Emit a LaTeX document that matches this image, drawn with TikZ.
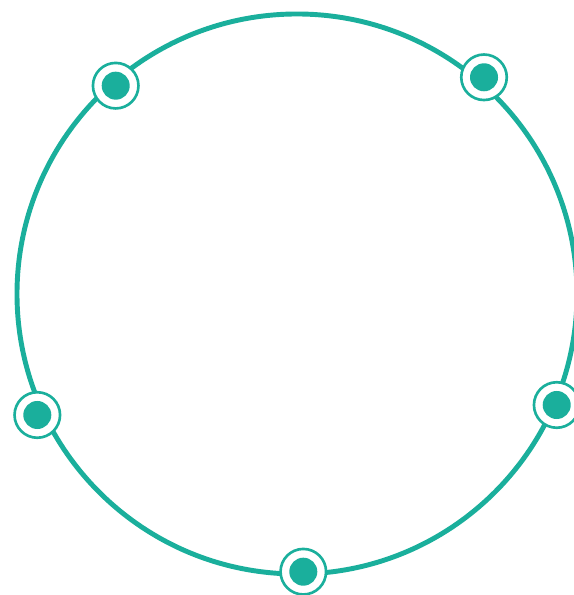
\documentclass[tikz,border=0pt]{standalone}
\usepackage{xcolor}
\definecolor{ringteal}{HTML}{1AAF9C}
\usepackage{tikz}
\tikzset{
  bigring/.style={draw=ringteal, line width=1.4pt},
  markring/.style={circle, draw=ringteal, fill=white, line width=0.75pt, minimum size=0.455cm, inner sep=0pt},
  markdot/.style={circle, fill=ringteal, minimum size=0.28cm, inner sep=0pt},
}

\begin{document}
\begin{tikzpicture}[x=0.01cm, y=0.01cm]
  \useasboundingbox (0,0) rectangle (574,595);
  \coordinate (ctr) at (297,301);
  \draw[bigring] (ctr) circle (280);
  % markers sitting on the ring
  \foreach \px/\py/\nm in {115.7/509.3/mA, 484/517.7/mB, 37.3/180/mC, 556.7/190/mD, 303.3/23.3/mE} {
    \node[markring] (\nm) at (\px,\py) {};
    \node[markdot] (\nm dot) at (\nm.center) {};
  }
\end{tikzpicture}
\end{document}
